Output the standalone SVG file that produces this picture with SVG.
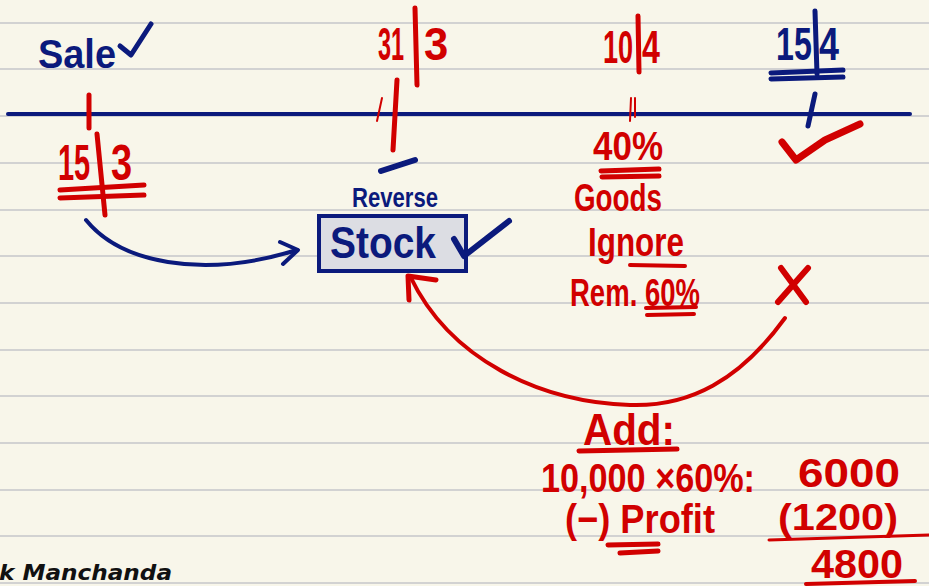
<svg xmlns="http://www.w3.org/2000/svg" width="929" height="586" viewBox="0 0 929 586">
<defs>
<style>
.rule{stroke:#d2d2d2;stroke-width:2}
.r{fill:#d10000;font-family:"Liberation Sans",Arial,sans-serif;font-weight:bold}
.b{fill:#0b1a7c;font-family:"Liberation Sans",Arial,sans-serif;font-weight:bold}
.rs{stroke:#d10000;fill:none;stroke-linecap:round;stroke-linejoin:round}
.bs{stroke:#0b1a7c;fill:none;stroke-linecap:round;stroke-linejoin:round}
</style>
</defs>
<rect width="929" height="586" fill="#f8f6ea"/>
<g id="rules">
<line class="rule" x1="0" y1="23" x2="929" y2="23"/>
<line class="rule" x1="0" y1="69" x2="929" y2="69"/>
<line class="rule" x1="0" y1="116" x2="929" y2="116"/>
<line class="rule" x1="0" y1="163" x2="929" y2="163"/>
<line class="rule" x1="0" y1="210" x2="929" y2="210"/>
<line class="rule" x1="0" y1="256" x2="929" y2="256"/>
<line class="rule" x1="0" y1="303" x2="929" y2="303"/>
<line class="rule" x1="0" y1="350" x2="929" y2="350"/>
<line class="rule" x1="0" y1="396" x2="929" y2="396"/>
<line class="rule" x1="0" y1="443" x2="929" y2="443"/>
<line class="rule" x1="0" y1="490" x2="929" y2="490"/>
<line class="rule" x1="0" y1="536" x2="929" y2="536"/>
<line class="rule" x1="0" y1="583" x2="929" y2="583"/>
</g>
<g id="timeline">
<line class="bs" x1="8" y1="114" x2="910" y2="114" stroke-width="4"/>
</g>
<g id="sale">
<text class="b" x="38" y="68" font-size="40" textLength="78" lengthAdjust="spacingAndGlyphs">Sale</text>
<path class="bs" stroke-width="5" d="M120 46 L131 55 L151 24"/>
</g>
<g id="date-15-3">
<path class="rs" stroke-width="5" d="M89 95 L89 128"/>
<text class="r" font-size="50" transform="translate(58 180) scale(0.58 1)">15</text>
<path class="rs" stroke-width="5" d="M97 134 L105 215"/>
<text class="r" font-size="50" transform="translate(111 180) scale(0.76 1)">3</text>
<path class="rs" stroke-width="5" d="M60 190 L144 185 M60 198 L144 195"/>
</g>
<g id="date-31-3">
<text class="r" font-size="46" transform="translate(378 60) scale(0.51 1)">31</text>
<path class="rs" stroke-width="5" d="M415 8 L417 85"/>
<text class="r" font-size="46" transform="translate(424 60) scale(0.95 1)">3</text>
<path class="rs" stroke-width="5" d="M397 80 L393 150"/>
<path class="rs" stroke-width="2" d="M382 98 L377 121"/>
<path class="bs" stroke-width="6" d="M381 171 L415 160"/>
<text class="b" x="352" y="207" font-size="27" textLength="86" lengthAdjust="spacingAndGlyphs">Reverse</text>
</g>
<g id="stock">
<rect x="319" y="216" width="147" height="55" fill="#dcdde3" stroke="#0b1a7c" stroke-width="4"/>
<text class="b" x="330" y="258" font-size="44" textLength="106" lengthAdjust="spacingAndGlyphs">Stock</text>
<path class="bs" stroke-width="6" d="M454 239 L464 256 L509 221"/>
</g>
<g id="date-10-4">
<text class="r" font-size="46" transform="translate(603 63) scale(0.59 1)">10</text>
<path class="rs" stroke-width="5" d="M638 16 L639 72"/>
<text class="r" font-size="46" transform="translate(642 63) scale(0.7 1)">4</text>
<path class="rs" stroke-width="2" d="M631 98 L630 121 M635 98 L635 117"/>
<text class="r" x="593" y="160" font-size="40" textLength="70" lengthAdjust="spacingAndGlyphs">40%</text>
<path class="rs" stroke-width="5" d="M601 171 L659 169 M602 177 L659 176"/>
<text class="r" x="574" y="211" font-size="38" textLength="88" lengthAdjust="spacingAndGlyphs">Goods</text>
<text class="r" x="588" y="256" font-size="40" textLength="96" lengthAdjust="spacingAndGlyphs">Ignore</text>
<path class="rs" stroke-width="4" d="M630 265 L685 266"/>
<text class="r" x="570" y="306" font-size="38" textLength="130" lengthAdjust="spacingAndGlyphs">Rem. 60%</text>
<path class="rs" stroke-width="4" d="M646 308 L696 307 M647 315 L694 314"/>
</g>
<g id="date-15-4">
<text class="b" font-size="46" transform="translate(776 60) scale(0.7 1)">15</text>
<path class="bs" stroke-width="5" d="M815 11 L817 74"/>
<text class="b" font-size="46" transform="translate(819 60) scale(0.78 1)">4</text>
<path class="bs" stroke-width="5" d="M771 73 L843 70 M771 79 L843 77"/>
<path class="bs" stroke-width="5" d="M815 94 L808 126"/>
<path class="rs" stroke-width="7" d="M782 142 L796 160 L825 140 L860 124"/>
<path class="rs" stroke-width="6" d="M781 268 L806 302 M808 268 L778 302"/>
</g>
<g id="connectors">
<path class="bs" stroke-width="4" d="M86 220 C120 262 200 280 297 250"/>
<path class="bs" stroke-width="4" d="M280 242 L298 250 L283 264"/>
<path class="rs" stroke-width="4" d="M785 318 C740 380 690 407 630 405 C540 402 450 360 410 276"/>
<path class="rs" stroke-width="5" d="M408 276 L436 280 M408 276 L409 300"/>
</g>
<g id="calc">
<text class="r" x="583" y="445" font-size="44" textLength="92" lengthAdjust="spacingAndGlyphs">Add:</text>
<path class="rs" stroke-width="5" d="M579 451 L677 449"/>
<text class="r" x="541" y="492" font-size="40" textLength="214" lengthAdjust="spacingAndGlyphs">10,000 ×60%:</text>
<text class="r" x="565" y="533" font-size="40" textLength="150" lengthAdjust="spacingAndGlyphs">(−) Profit</text>
<path class="rs" stroke-width="5" d="M608 545 L658 544 M620 553 L658 551"/>
<text class="r" x="798" y="487" font-size="40" textLength="102" lengthAdjust="spacingAndGlyphs">6000</text>
<text class="r" x="778" y="530" font-size="36" textLength="120" lengthAdjust="spacingAndGlyphs">(1200)</text>
<path class="rs" stroke-width="3" d="M769 540 L929 535"/>
<text class="r" x="811" y="578" font-size="40" textLength="92" lengthAdjust="spacingAndGlyphs">4800</text>
<path class="rs" stroke-width="4" d="M806 584 L915 581"/>
</g>
<text x="-1" y="580" font-family="'DejaVu Sans',sans-serif" font-weight="bold" font-style="italic" font-size="22" textLength="173" lengthAdjust="spacingAndGlyphs" fill="#111">k Manchanda</text>
</svg>
